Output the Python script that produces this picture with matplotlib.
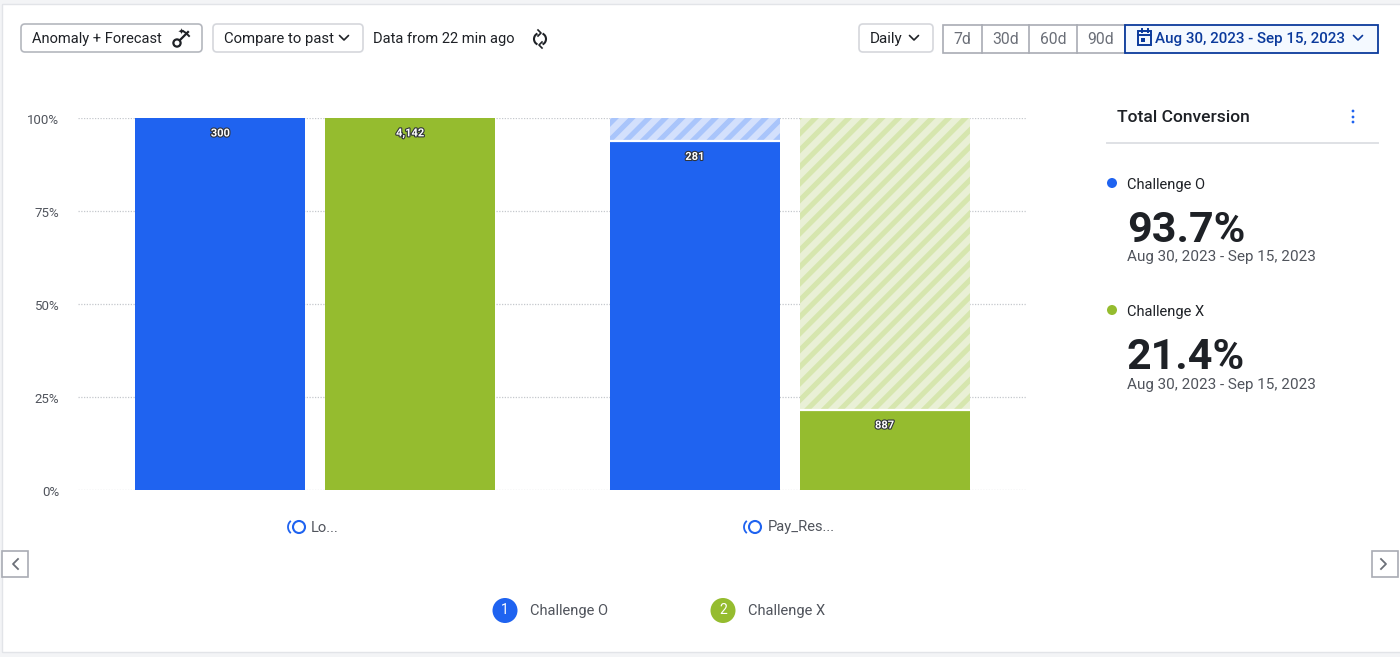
#!/usr/bin/env python3
"""Funnel conversion panel: two steps, two segments, with the toolbar around it."""

import matplotlib
matplotlib.use("Agg")
import matplotlib.patheffects as pe
import matplotlib.pyplot as plt
from matplotlib.patches import Arc, Circle, FancyBboxPatch, Rectangle
from matplotlib.transforms import ScaledTranslation

plt.rcParams["font.family"] = ["Roboto", "DejaVu Sans"]
plt.rcParams["hatch.linewidth"] = 3.7

W, H = 1400, 657
BLUE = "#1f63f0"
GREEN = "#95bc2f"
INK = "#1e2126"
GREY = "#50545c"
NAVY = "#0b3a9c"

steps = ["Lo...", "Pay_Res..."]
segments = ["Challenge O", "Challenge X"]
conv_o = [100.0, 93.7]
conv_x = [100.0, 21.4]
counts_o = ["300", "281"]
counts_x = ["4,142", "887"]
yticks = [0, 25, 50, 75, 100]
ytick_labels = ["0%", "25%", "50%", "75%", "100%"]
totals = ["93.7%", "21.4%"]
date_range = "Aug 30, 2023 - Sep 15, 2023"
range_buttons = ["7d", "30d", "60d", "90d"]

fig = plt.figure(figsize=(W / 100, H / 100), dpi=100, facecolor="#f3f4f6")

# pixel-space overlay for everything that is page furniture
ui = fig.add_axes([0, 0, 1, 1])
ui.set_xlim(0, W)
ui.set_ylim(H, 0)
ui.axis("off")
ui.add_patch(Rectangle((1.5, 3.5), W, 648, fc="white", ec="#e2e4e8", lw=1))


def button(x0, x1, ec="#d5d7dc", fc="white", lw=1.2, y0=24, y1=52):
    ui.add_patch(FancyBboxPatch((x0 + 3, y0 + 3), x1 - x0 - 6, y1 - y0 - 6,
                                boxstyle="round,pad=3,rounding_size=4",
                                fc=fc, ec=ec, lw=lw))


def chevron(x, y, color=INK, s=4.5):
    ui.plot([x - s, x, x + s], [y - 2, y + 2.5, y - 2], color=color, lw=1.2,
            solid_capstyle="round")


def label(x, y, s, size=10.5, color=INK, ha="left", **kw):
    return ui.text(x, y + 1, s, fontsize=size, color=color, ha=ha, va="center", **kw)


# left side of the toolbar
button(21, 202, ec="#b4b7be")
label(32, 38, "Anomaly + Forecast")
ui.add_patch(Circle((177, 43), 3.6, fc="none", ec=INK, lw=1.6))
ui.plot([180, 188], [40, 32], color=INK, lw=1.6)
ui.plot([183, 186, 189], [31, 33, 36], color=INK, lw=1.4)
label(178, 30, "✦", size=6)
button(213, 363)
label(224, 38, "Compare to past", size=10.7)
chevron(344, 37.5)
label(373, 38, "Data from 22 min ago")
ui.add_patch(Arc((540, 39), 12, 12, theta1=115, theta2=245, ec=INK, lw=1.5))
ui.add_patch(Arc((540, 39), 12, 12, theta1=295, theta2=65, ec=INK, lw=1.5))
ui.plot([538, 541, 538], [30, 33, 36], color=INK, lw=1.2)
ui.plot([542, 539, 542], [42, 45, 48], color=INK, lw=1.2)

# right side of the toolbar
button(859, 933)
label(870, 38, "Daily", size=11)
chevron(914, 37.5)
edges = [943, 982, 1029, 1077, 1125]
ui.add_patch(Rectangle((943, 24.5), 182, 28, fc="white", ec="#a9acb4", lw=1.2))
for i, name in enumerate(range_buttons):
    if i:
        ui.plot([edges[i]] * 2, [24.5, 52.5], color="#a9acb4", lw=1.2)
    label((edges[i] + edges[i + 1]) / 2, 38, name, size=11.3, color="#6b6f78", ha="center")
ui.add_patch(Rectangle((1125, 24.5), 252.5, 28, fc="#f4f9ff", ec=NAVY, lw=1.3))
ui.add_patch(Rectangle((1138, 31), 13, 14, fc="none", ec=NAVY, lw=1.4))
ui.plot([1138, 1151], [35, 35], color=NAVY, lw=1.4)
ui.plot([1141.5, 1141.5], [28.5, 32], color=NAVY, lw=1.4)
ui.plot([1147.5, 1147.5], [28.5, 32], color=NAVY, lw=1.4)
ui.add_patch(Rectangle((1141, 38), 4, 4, fc=NAVY, ec="none"))
label(1155, 38, date_range, size=10.9, color=NAVY, fontweight="medium")
chevron(1358, 37.5, color=NAVY)

# side panel
label(1117, 116, "Total Conversion", size=12.6, fontweight="medium")
for y in (111, 117, 122):
    ui.add_patch(Circle((1353, y), 1.4, fc=BLUE, ec="none"))
ui.plot([1107, 1378], [143, 143], color="#dfe1e5", lw=1.4)
for y0, name, total, color in zip((184, 311), segments, totals, (BLUE, GREEN)):
    ui.add_patch(Circle((1112, y0 - 1), 5, fc=color, ec="none"))
    label(1127, y0, name)
    label(1127, y0 + 45.5, total, size=31, fontweight="bold")
    label(1127, y0 + 72.5, date_range, size=10.95, color=GREY)

# pager arrows
for x0, pts in ((2, [18, 13, 18]), (1372, [1381, 1386, 1381])):
    ui.add_patch(Rectangle((x0, 551), 26, 26, fc="white", ec="#a9acb4", lw=1.2))
    ui.plot(pts, [559, 564, 569], color="#6b6f78", lw=1.3)

# chart itself
ax = fig.add_axes([78 / W, 1 - 489.5 / H, 949 / W, 371.5 / H])
ax.patch.set_alpha(0)
ax.set_xlim(-0.5, 1.5)
ax.set_ylim(0, 100)
for spine in ax.spines.values():
    spine.set_visible(False)
ax.tick_params(length=0, labelbottom=False, pad=13.5)
ax.set_yticks(yticks, ytick_labels, fontsize=9.5, color=GREY, va="center")
shift = ScaledTranslation(0, -3 / 100, fig.dpi_scale_trans)
for tick_text in ax.get_yticklabels():
    tick_text.set_transform(tick_text.get_transform() + shift)
ax.grid(axis="y", color="#c5c8cd", ls=(0, (1, 1.2)), lw=0.9)
ax.set_axisbelow(True)

bar_w = 0.358
outline = [pe.withStroke(linewidth=1.6, foreground="#30343a")]
for offset, vals, counts, color, ghost, stripe in (
        (-0.2, conv_o, counts_o, BLUE, "#d3e0fc", "#a9c5fb"),
        (0.2, conv_x, counts_x, GREEN, "#e9f0d6", "#d6e6ae")):
    for i, (val, count) in enumerate(zip(vals, counts)):
        x = i + offset
        ax.bar(x, val, bar_w, color=color, lw=0, zorder=3)
        if val < 100:
            ax.bar(x, 100 - val, bar_w, bottom=val, color=ghost, edgecolor=stripe,
                   hatch="//", lw=0, zorder=2)
            ax.hlines(val, x - bar_w / 2, x + bar_w / 2, color="white", lw=1.6, zorder=4)
        ax.annotate(count, (x, val), xytext=(0, -15.5), textcoords="offset pixels",
                    ha="center", va="center", fontsize=8, color="white",
                    fontweight="bold", path_effects=outline, zorder=5)

# category labels and legend under the chart
for x, cx, step in ((299, 311, steps[0]), (755, 768, steps[1])):
    ui.add_patch(Circle((x, 527), 6, fc="none", ec=BLUE, lw=1.5))
    ui.add_patch(Arc((x - 3, 527), 16, 16, theta1=130, theta2=230, ec=BLUE, lw=1.3))
    label(cx, 526.5, step, size=10.6, color=GREY)
for x, n, name, color in ((505, "1", segments[0], BLUE), (723, "2", segments[1], GREEN)):
    ui.add_patch(Circle((x, 610.5), 12.5, fc=color, ec="none"))
    label(x, 609.5, n, size=10, color="white", ha="center")
    label(x + 25, 609.5, name, color=GREY)

fig.savefig("out.png", dpi=100, facecolor=fig.get_facecolor())
